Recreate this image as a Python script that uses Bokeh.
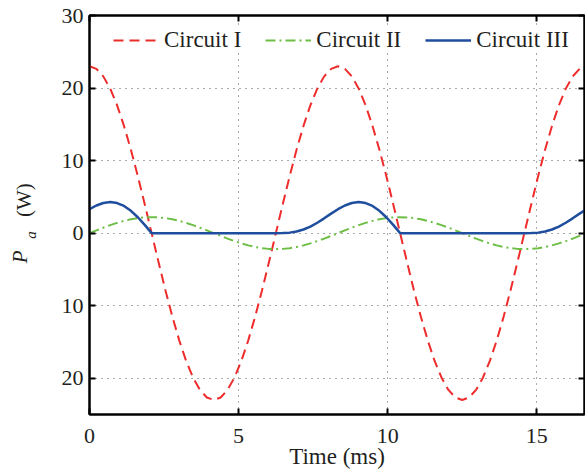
from math import pi
from bokeh.plotting import figure
from bokeh.models import Range1d, FixedTicker, LinearAxis
from bokeh.layouts import row
from bokeh.core.properties import value
from bokeh.embed import file_html
from bokeh.resources import INLINE

# ---------------- data ----------------
time_ms = [0.000, 0.231, 0.463, 0.694, 0.926, 1.157, 1.389, 1.620, 1.852, 2.083,
           2.315, 2.546, 2.778, 3.009, 3.241, 3.472, 3.704, 3.935, 4.167, 4.398,
           4.630, 4.861, 5.093, 5.324, 5.556, 5.787, 6.019, 6.250, 6.481, 6.713,
           6.944, 7.176, 7.407, 7.639, 7.870, 8.102, 8.333, 8.565, 8.796, 9.028,
           9.259, 9.491, 9.722, 9.954, 10.185, 10.417, 10.648, 10.880, 11.111, 11.343,
           11.574, 11.806, 12.037, 12.269, 12.500, 12.731, 12.963, 13.194, 13.426, 13.657,
           13.889, 14.120, 14.352, 14.583, 14.815, 15.046, 15.278, 15.509, 15.741, 15.972,
           16.204, 16.435, 16.667]

circuit_1 = [23.0, 22.65, 21.61, 19.92, 17.62, 14.78, 11.5, 7.87, 3.99, 0.0,
             -3.99, -7.87, -11.5, -14.78, -17.62, -19.92, -21.61, -22.65, -23.0, -22.65,
             -21.61, -19.92, -17.62, -14.78, -11.5, -7.87, -3.99, 0.0, 3.99, 7.87,
             11.5, 14.78, 17.62, 19.92, 21.61, 22.65, 23.0, 22.65, 21.61, 19.92,
             17.62, 14.78, 11.5, 7.87, 3.99, 0.0, -3.99, -7.87, -11.5, -14.78,
             -17.62, -19.92, -21.61, -22.65, -23.0, -22.65, -21.61, -19.92, -17.62, -14.78,
             -11.5, -7.87, -3.99, 0.0, 3.99, 7.87, 11.5, 14.78, 17.62, 19.92,
             21.61, 22.65, 23.0]

circuit_2 = [0.0, 0.38, 0.75, 1.1, 1.41, 1.69, 1.91, 2.07, 2.17, 2.2,
             2.17, 2.07, 1.91, 1.69, 1.41, 1.1, 0.75, 0.38, 0.0, -0.38,
             -0.75, -1.1, -1.41, -1.69, -1.91, -2.07, -2.17, -2.2, -2.17, -2.07,
             -1.91, -1.69, -1.41, -1.1, -0.75, -0.38, 0.0, 0.38, 0.75, 1.1,
             1.41, 1.69, 1.91, 2.07, 2.17, 2.2, 2.17, 2.07, 1.91, 1.69,
             1.41, 1.1, 0.75, 0.38, 0.0, -0.38, -0.75, -1.1, -1.41, -1.69,
             -1.91, -2.07, -2.17, -2.2, -2.17, -2.07, -1.91, -1.69, -1.41, -1.1,
             -0.75, -0.38, 0.0]

circuit_3 = [3.30, 3.81, 4.16, 4.29, 4.15, 3.75, 3.08, 2.19, 1.14, 0.0,
             0.0, 0.0, 0.0, 0.0, 0.0, 0.0, 0.0, 0.0, 0.0, 0.0,
             0.0, 0.0, 0.0, 0.0, 0.0, 0.0, 0.0, 0.0, 0.01, 0.07,
             0.22, 0.50, 0.90, 1.43, 2.04, 2.69, 3.30, 3.81, 4.16, 4.29,
             4.15, 3.75, 3.08, 2.19, 1.14, 0.0, 0.0, 0.0, 0.0, 0.0,
             0.0, 0.0, 0.0, 0.0, 0.0, 0.0, 0.0, 0.0, 0.0, 0.0,
             0.0, 0.0, 0.0, 0.0, 0.01, 0.07, 0.22, 0.50, 0.90, 1.43,
             2.04, 2.69, 3.30]

series_names = ["Circuit I", "Circuit II", "Circuit III"]
x_ticks = [0, 5, 10, 15]
y_ticks = [-20, -10, 0, 10, 20, 30]
y_tick_labels = {-20: "20", -10: "10", 0: "0", 10: "10", 20: "20", 30: "30"}
x_label = "Time (ms)"
y_label_parts = ["P", "a", "(W)"]

SERIF = "Liberation Serif"
INK = "#231f20"
STRIP_W = 46
H = 471

# ---------------- narrow strip carrying the y-axis label ----------------
# (its frame is aligned with the chart frame, which spans 56..456 px from the bottom)
lab = figure(width=STRIP_W, height=H, output_backend="svg", toolbar_location=None,
             x_range=Range1d(0, STRIP_W), y_range=Range1d(56, 456),
             x_axis_type=None, y_axis_type=None, min_border=0)
lab.outline_line_color = None
lab.background_fill_color = "white"
lab.border_fill_color = "white"
# centre of each piece (strip pixels, y measured from the bottom), size, style
label_layout = [(19, 214, "21px", "italic"),
                (30, 236, "15px", "italic"),
                (23, 271, "21px", "normal")]
for txt, (lx, ly, size, style) in zip(y_label_parts, label_layout):
    lab.text(x=[lx], y=[ly], text=[txt], angle=pi / 2,
             text_font=value(SERIF), text_font_size=value(size),
             text_font_style=value(style), text_color=INK,
             text_align=value("center"), text_baseline=value("middle"))

# ---------------- main chart ----------------
p = figure(width=585 - STRIP_W, height=H, output_backend="svg", toolbar_location=None,
           x_range=Range1d(0, 16.6), y_range=Range1d(-25, 30),
           min_border_left=89 - STRIP_W, min_border_top=15, min_border_right=1,
           min_border_bottom=56)

p.background_fill_color = "white"
p.border_fill_color = "white"
p.outline_line_color = "black"
p.outline_line_width = 2

# grid
for g, t in ((p.xgrid, x_ticks), (p.ygrid, y_ticks)):
    g.ticker = FixedTicker(ticks=t)
    g.grid_line_color = "#555555"
    g.grid_line_dash = "1 5"
    g.grid_line_width = 1

# main axes
xa = p.xaxis[0]
ya = p.yaxis[0]
xa.ticker = FixedTicker(ticks=x_ticks)
ya.ticker = FixedTicker(ticks=y_ticks)
ya.major_label_overrides = y_tick_labels
for ax in (xa, ya):
    ax.axis_line_width = 2
    ax.axis_line_color = "black"
    ax.major_tick_in = 6
    ax.major_tick_out = 0
    ax.major_tick_line_width = 2
    ax.minor_tick_line_color = None
    ax.major_label_text_font = SERIF
    ax.major_label_text_font_size = "22px"
    ax.major_label_text_color = INK
xa.major_label_standoff = 14
ya.major_label_standoff = 6
xa.axis_label = x_label
xa.axis_label_text_font = SERIF
xa.axis_label_text_font_size = "23px"
xa.axis_label_text_font_style = "normal"
xa.axis_label_text_color = INK
xa.axis_label_standoff = -2

# mirrored tick marks on top and right
for side, t in (("above", x_ticks), ("right", y_ticks)):
    ax = LinearAxis(ticker=FixedTicker(ticks=t))
    ax.axis_line_width = 2
    ax.major_tick_in = 6
    ax.major_tick_out = 0
    ax.major_tick_line_width = 2
    ax.minor_tick_line_color = None
    ax.major_label_text_font_size = "1px"
    ax.major_label_text_color = None
    ax.major_label_standoff = 0
    p.add_layout(ax, side)

# series
p.line(time_ms, circuit_1, line_color="#EE2C2C", line_width=2,
       line_dash="10 6", legend_label=series_names[0])
p.line(time_ms, circuit_2, line_color="#6DBE45", line_width=2,
       line_dash="10 4 2 4", legend_label=series_names[1])
p.line(time_ms, circuit_3, line_color="#1F4E9E", line_width=2.5,
       legend_label=series_names[2])

lg = p.legend[0]
lg.orientation = "horizontal"
lg.location = (24, 361)
lg.padding = 4
lg.margin = 0
lg.spacing = 24
lg.glyph_width = 46
lg.glyph_height = 20
lg.label_standoff = 5
lg.label_text_font = SERIF
lg.label_text_font_size = "23px"
lg.label_text_color = INK
lg.border_line_color = None
lg.background_fill_color = "white"
lg.background_fill_alpha = 1.0

layout = row(lab, p)
open("out.html", "w").write(file_html(layout, INLINE))
